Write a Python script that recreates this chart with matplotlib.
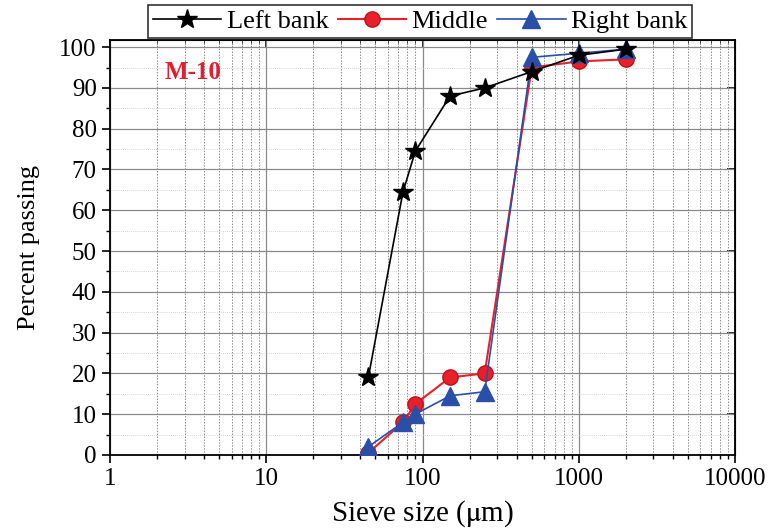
import numpy as np
import matplotlib
matplotlib.use("Agg")
import matplotlib.pyplot as plt
from matplotlib.ticker import LogLocator, FixedLocator, NullFormatter

plt.rcParams['font.family'] = ['Liberation Serif', 'DejaVu Serif']
plt.rcParams['mathtext.fontset'] = 'stix'

# sieve sizes (um) and percent passing at each bank
sieve = [45, 75, 90, 150, 250, 500, 1000, 2000]
left_bank = [19, 64.5, 74.5, 88, 90, 94, 98, 99.5]
middle = [0.5, 8, 12.5, 19, 20, 95, 96.5, 97]
right_bank = [2, 8, 10, 14.5, 15.5, 97.5, 98.5, 99.5]

x_ticks = [1, 10, 100, 1000, 10000]
x_labels = ['1', '10', '100', '1000', '10000']
y_ticks = list(range(0, 101, 10))

fig = plt.figure(figsize=(7.71, 5.29), dpi=100)
ax = fig.add_axes([0.1427, 0.140, 0.8106, 0.784])

ax.plot(sieve, left_bank, color='black', lw=1.2, marker='*', ms=15,
        mfc='black', mec='black', label='Left bank', zorder=5)
ax.plot(sieve, middle, color='#e8202a', lw=1.5, marker='o', ms=11,
        mfc='#e8202a', mec='#c01018', label='Middle', zorder=4)
ax.plot(sieve, right_bank, color='#2a4fa8', lw=1.2, marker='^', ms=13,
        mfc='#2a4fa8', mec='#2a4fa8', label='Right bank', zorder=4)

ax.set_xscale('log')
ax.set_xlim(1, 10000)
ax.set_ylim(0, 101.7)
ax.set_xticks(x_ticks)
ax.set_xticklabels(x_labels)
ax.xaxis.set_minor_locator(LogLocator(base=10, subs=np.arange(2, 10)))
ax.xaxis.set_minor_formatter(NullFormatter())
ax.set_yticks(y_ticks)
ax.yaxis.set_minor_locator(FixedLocator(np.arange(5, 100, 10)))

ax.grid(True, which='major', axis='both', color='#8a8a8a', lw=0.9, ls='-')
ax.grid(True, which='minor', axis='x', color='#8a8a8a', lw=0.7, ls=(0, (1.5, 1.5)))
ax.grid(True, which='minor', axis='y', color='#c8c8c8', lw=0.6, ls=(0, (1, 1.5)))
ax.set_axisbelow(True)

ax.tick_params(axis='both', which='major', direction='out', length=6, width=1.2,
               labelsize=18, top=False, right=False)
ax.tick_params(axis='both', which='minor', direction='out', length=3, width=1,
               top=False, right=False)
sec_y = ax.secondary_yaxis('right')
sec_y.set_yticks(y_ticks[1:-1:2])
sec_y.tick_params(direction='in', length=6, width=1.2, labelright=False)
sec_x = ax.secondary_xaxis('top')
sec_x.set_xticks(x_ticks)
sec_x.tick_params(direction='in', length=6, width=1.2, labeltop=False)
sec_x.xaxis.set_minor_locator(LogLocator(base=10, subs=np.arange(2, 10)))
sec_x.xaxis.set_minor_formatter(NullFormatter())
sec_x.tick_params(which='minor', direction='in', length=3)

for s in ax.spines.values():
    s.set_linewidth(1.3)

ax.set_xlabel('Sieve size ($\\mathrm{\\mu}$m)', fontsize=21, labelpad=6)
ax.set_ylabel('Percent passing', fontsize=19, labelpad=14)

ax.text(0.088, 0.923, 'M-10', transform=ax.transAxes, color='#e02030',
        fontsize=18, fontweight='bold', va='center', ha='left')

leg = ax.legend(loc='center', bbox_to_anchor=(0.496, 1.046), ncol=3,
                fontsize=19, frameon=True, fancybox=False, edgecolor='black',
                handlelength=2.6, handletextpad=0.2, columnspacing=0.35,
                borderpad=0.18, borderaxespad=0)
leg.get_frame().set_linewidth(1.2)

fig.savefig('out.png', dpi=100)
